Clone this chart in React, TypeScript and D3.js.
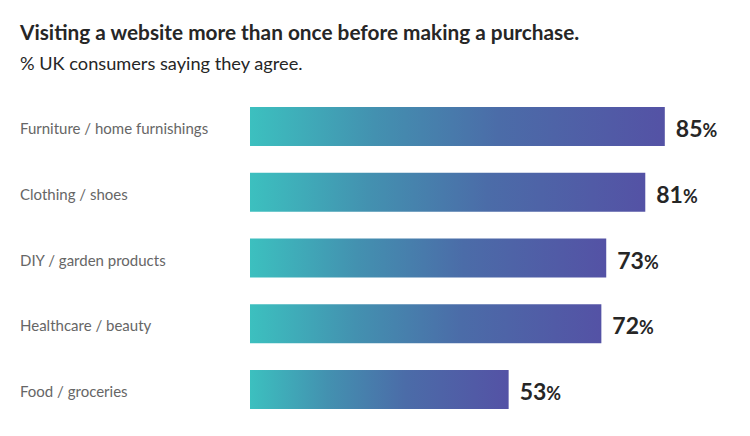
import React from "react";
import * as d3 from "d3";

const categories = [
  "Furniture / home furnishings",
  "Clothing / shoes",
  "DIY / garden products",
  "Healthcare / beauty",
  "Food / groceries",
];
const values = [85, 81, 73, 72, 53];

const title = "Visiting a website more than once before making a purchase.";
const subtitle = "% UK consumers saying they agree.";

const W = 750;
const H = 436;
const FONT = "Lato, 'Open Sans', sans-serif";

export default function App() {
  const x = d3.scaleLinear().domain([0, 100]).range([250, 738]);
  const y = d3
    .scaleBand<string>()
    .domain(categories)
    .range([107, 409])
    .paddingInner(0.407)
    .paddingOuter(0);

  return (
    <svg
      width={W}
      height={H}
      style={{ position: "absolute", left: 0, top: 0, background: "#fff" }}
    >
      <defs>
        {values.map((v, i) => (
          <linearGradient
            key={i}
            id={`barGrad${i}`}
            gradientUnits="userSpaceOnUse"
            x1={x(0)}
            x2={x(v)}
            y1={0}
            y2={0}
          >
            <stop offset="0%" stopColor="#3cc0bf" />
            <stop offset="30%" stopColor="#4391b0" />
            <stop offset="60%" stopColor="#4b6ca8" />
            <stop offset="100%" stopColor="#5452a5" />
          </linearGradient>
        ))}
      </defs>
      <text
        x={20}
        y={40}
        fontFamily={FONT}
        fontWeight={700}
        fontSize={20.8}
        fill="#262626"
      >
        {title}
      </text>
      <text x={20} y={70} fontFamily={FONT} fontSize={18.2} fill="#262626">
        {subtitle}
      </text>
      {categories.map((c, i) => {
        const yy = y(c)!;
        const bh = y.bandwidth();
        const cy = yy + bh / 2;
        return (
          <g key={c}>
            <text
              x={20}
              y={cy + 7.5}
              fontFamily={FONT}
              fontSize={15}
              fill="#666"
            >
              {c}
            </text>
            <rect
              x={x(0)}
              y={yy}
              width={x(values[i]) - x(0)}
              height={bh}
              fill={`url(#barGrad${i})`}
            />
            <text
              x={x(values[i]) + 11}
              y={cy + 10.5}
              fontFamily={FONT}
              fill="#262626"
              fontWeight={700}
            >
              <tspan fontSize={23}>{values[i]}</tspan>
              <tspan fontSize={18}>%</tspan>
            </text>
          </g>
        );
      })}
    </svg>
  );
}
